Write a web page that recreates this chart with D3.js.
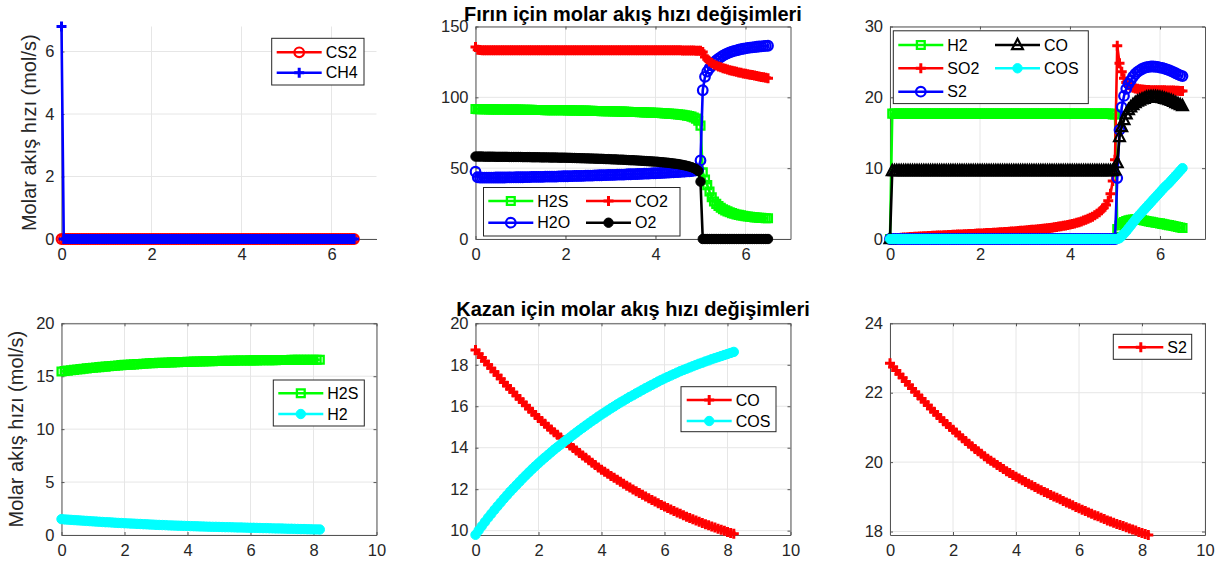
<!DOCTYPE html>
<html>
<head>
<meta charset="utf-8">
<script src="https://cdnjs.cloudflare.com/ajax/libs/d3/7.8.5/d3.min.js"></script>
<style>
  body { margin: 0; background: #fff; }
  svg { display: block; }
</style>
</head>
<body>
<svg id="fig" width="1222" height="572"></svg>
<script>
// ---------------- data ----------------
// Furnace (Fırın): axial position grid
const tTop = [
  0,0.05,0.1,0.15,0.2,0.25,0.3,0.35,0.4,0.45,
  0.5,0.55,0.6,0.65,0.7,0.75,0.8,0.85,0.9,0.95,
  1,1.05,1.1,1.15,1.2,1.25,1.3,1.35,1.4,1.45,
  1.5,1.55,1.6,1.65,1.7,1.75,1.8,1.85,1.9,1.95,
  2,2.05,2.1,2.15,2.2,2.25,2.3,2.35,2.4,2.45,
  2.5,2.55,2.6,2.65,2.7,2.75,2.8,2.85,2.9,2.95,
  3,3.05,3.1,3.15,3.2,3.25,3.3,3.35,3.4,3.45,
  3.5,3.55,3.6,3.65,3.7,3.75,3.8,3.85,3.9,3.95,
  4,4.05,4.1,4.15,4.2,4.25,4.3,4.35,4.4,4.45,
  4.5,4.55,4.6,4.65,4.7,4.75,4.8,4.85,4.9,4.95,
  5,5.05,5.1,5.15,5.2,5.25,5.3,5.35,5.4,5.45,
  5.5,5.55,5.6,5.65,5.7,5.75,5.8,5.85,5.9,5.95,
  6,6.05,6.1,6.15,6.2,6.25,6.3,6.35,6.4,6.45,
  6.5
];

const furnaceCS2 = [
  0,0,0,0,0,0,0,0,0,0, 0,0,0,0,0,0,0,0,0,0,
  0,0,0,0,0,0,0,0,0,0, 0,0,0,0,0,0,0,0,0,0,
  0,0,0,0,0,0,0,0,0,0, 0,0,0,0,0,0,0,0,0,0,
  0,0,0,0,0,0,0,0,0,0, 0,0,0,0,0,0,0,0,0,0,
  0,0,0,0,0,0,0,0,0,0, 0,0,0,0,0,0,0,0,0,0,
  0,0,0,0,0,0,0,0,0,0, 0,0,0,0,0,0,0,0,0,0,
  0,0,0,0,0,0,0,0,0,0,
  0
];
const furnaceCH4 = [
  6.8,0,0,0,0,0,0,0,0,0, 0,0,0,0,0,0,0,0,0,0,
  0,0,0,0,0,0,0,0,0,0, 0,0,0,0,0,0,0,0,0,0,
  0,0,0,0,0,0,0,0,0,0, 0,0,0,0,0,0,0,0,0,0,
  0,0,0,0,0,0,0,0,0,0, 0,0,0,0,0,0,0,0,0,0,
  0,0,0,0,0,0,0,0,0,0, 0,0,0,0,0,0,0,0,0,0,
  0,0,0,0,0,0,0,0,0,0, 0,0,0,0,0,0,0,0,0,0,
  0,0,0,0,0,0,0,0,0,0,
  0
];

const furnaceH2S = [
  91.8,91.7,91.7,91.6,91.6,91.6,91.5,91.5,91.5,91.5,
  91.4,91.4,91.4,91.4,91.4,91.3,91.3,91.3,91.3,91.3,
  91.3,91.2,91.2,91.2,91.2,91.2,91.1,91.1,91.1,91.1,
  91.1,91.0,91.0,91.0,91.0,91.0,90.9,90.9,90.9,90.9,
  90.9,90.8,90.8,90.8,90.7,90.7,90.7,90.6,90.6,90.6,
  90.5,90.5,90.5,90.4,90.4,90.4,90.3,90.3,90.2,90.2,
  90.2,90.1,90.1,90.0,90.0,89.9,89.9,89.8,89.8,89.7,
  89.7,89.6,89.6,89.5,89.5,89.4,89.3,89.3,89.2,89.1,
  89.1,89.0,88.9,88.8,88.7,88.6,88.5,88.4,88.3,88.1,
  88.0,87.8,87.6,87.4,87.1,86.8,86.4,85.8,85.0,83.5,
  80.0,47.0,42.0,38.0,33.5,29.5,26.5,24.8,23.3,22.1,
  21.0,20.2,19.5,18.9,18.3,17.8,17.3,17.0,16.7,16.4,
  16.1,15.9,15.7,15.5,15.3,15.2,15.0,14.9,14.8,14.7,
  14.6
];
const furnaceH2O = [
  47.5,43.6,43.4,43.3,43.3,43.3,43.3,43.3,43.3,43.4,
  43.4,43.4,43.4,43.4,43.5,43.5,43.5,43.5,43.6,43.6,
  43.6,43.6,43.7,43.7,43.7,43.8,43.8,43.8,43.9,43.9,
  43.9,44.0,44.0,44.0,44.1,44.1,44.1,44.2,44.2,44.3,
  44.3,44.3,44.4,44.4,44.5,44.5,44.5,44.6,44.6,44.7,
  44.7,44.8,44.8,44.9,44.9,45.0,45.0,45.1,45.1,45.2,
  45.2,45.3,45.3,45.4,45.4,45.5,45.5,45.6,45.7,45.7,
  45.8,45.8,45.9,46.0,46.0,46.1,46.2,46.2,46.3,46.4,
  46.4,46.5,46.6,46.7,46.7,46.8,46.9,47.0,47.1,47.2,
  47.3,47.4,47.5,47.6,47.7,47.8,48.0,48.2,48.5,49.0,
  55.5,105.0,114.5,118.2,120.5,122.5,124.5,126.0,127.3,128.4,
  129.4,130.3,131.0,131.7,132.3,132.8,133.2,133.6,134.0,134.3,
  134.6,134.9,135.1,135.3,135.5,135.7,135.9,136.0,136.2,136.3,
  136.4
];
const furnaceCO2 = [
  135.5,133.6,133.4,133.3,133.3,133.3,133.3,133.3,133.3,133.3,
  133.3,133.3,133.3,133.3,133.3,133.3,133.3,133.3,133.3,133.3,
  133.3,133.3,133.3,133.3,133.3,133.3,133.3,133.3,133.3,133.3,
  133.3,133.3,133.3,133.3,133.3,133.3,133.3,133.3,133.3,133.3,
  133.3,133.3,133.3,133.3,133.3,133.3,133.3,133.3,133.3,133.3,
  133.3,133.3,133.3,133.3,133.3,133.3,133.3,133.3,133.3,133.3,
  133.3,133.3,133.3,133.3,133.3,133.3,133.3,133.3,133.3,133.3,
  133.3,133.3,133.3,133.3,133.3,133.3,133.3,133.3,133.3,133.3,
  133.3,133.3,133.3,133.2,133.2,133.2,133.2,133.2,133.2,133.2,
  133.2,133.2,133.1,133.1,133.1,133.0,133.0,133.0,132.9,132.9,
  132.8,132.0,128.5,126.8,125.3,124.2,123.2,122.5,121.8,121.2,
  120.6,120.1,119.6,119.2,118.8,118.4,118.0,117.6,117.3,116.9,
  116.6,116.3,116.0,115.7,115.4,115.0,114.7,114.4,114.1,113.8,
  113.5
];
const furnaceO2 = [
  58.2,58.2,58.2,58.2,58.1,58.1,58.1,58.1,58.1,58.0,
  58.0,58.0,58.0,58.0,58.0,57.9,57.9,57.9,57.9,57.9,
  57.9,57.8,57.8,57.8,57.8,57.7,57.7,57.7,57.7,57.6,
  57.6,57.6,57.6,57.5,57.5,57.5,57.5,57.4,57.4,57.4,
  57.4,57.3,57.3,57.2,57.2,57.1,57.1,57.0,57.0,56.9,
  56.9,56.8,56.8,56.7,56.7,56.6,56.6,56.5,56.4,56.4,
  56.3,56.2,56.2,56.1,56.0,56.0,55.9,55.8,55.7,55.6,
  55.6,55.5,55.4,55.3,55.2,55.1,55.0,54.9,54.8,54.7,
  54.6,54.5,54.3,54.2,54.0,53.9,53.7,53.5,53.3,53.1,
  52.9,52.6,52.3,52.0,51.6,51.2,50.7,50.1,49.3,48.0,
  40.5,0,0,0,0,0,0,0,0,0,
  0,0,0,0,0,0,0,0,0,0,
  0,0,0,0,0,0,0,0,0,0,
  0
];

const furnaceH2 = [
  0,17.7,17.7,17.7,17.7,17.7,17.7,17.7,17.7,17.7,
  17.7,17.7,17.7,17.7,17.7,17.7,17.7,17.7,17.7,17.7,
  17.7,17.7,17.7,17.7,17.7,17.7,17.7,17.7,17.7,17.7,
  17.7,17.7,17.7,17.7,17.7,17.7,17.7,17.7,17.7,17.7,
  17.7,17.7,17.7,17.7,17.7,17.7,17.7,17.7,17.7,17.7,
  17.7,17.7,17.7,17.7,17.7,17.7,17.7,17.7,17.7,17.7,
  17.7,17.7,17.7,17.7,17.7,17.7,17.7,17.7,17.7,17.7,
  17.7,17.7,17.7,17.7,17.7,17.7,17.7,17.7,17.7,17.7,
  17.7,17.7,17.7,17.7,17.7,17.7,17.7,17.7,17.7,17.7,
  17.7,17.7,17.7,17.7,17.7,17.7,17.7,17.7,17.7,17.6,
  17.6,1.4,1.9,2.2,2.4,2.55,2.65,2.72,2.76,2.78,
  2.78,2.74,2.68,2.62,2.55,2.48,2.42,2.36,2.3,2.25,
  2.2,2.14,2.08,2.02,1.96,1.9,1.83,1.76,1.69,1.62,
  1.55
];
const furnaceSO2 = [
  0,0.05,0.1,0.12,0.15,0.17,0.2,0.22,0.25,0.27,
  0.3,0.32,0.33,0.35,0.37,0.38,0.4,0.42,0.43,0.45,
  0.47,0.48,0.5,0.51,0.53,0.54,0.56,0.57,0.59,0.6,
  0.62,0.63,0.65,0.66,0.68,0.69,0.71,0.72,0.74,0.76,
  0.78,0.79,0.81,0.83,0.85,0.86,0.88,0.9,0.92,0.94,
  0.96,0.98,1.0,1.02,1.05,1.07,1.1,1.12,1.15,1.17,
  1.2,1.23,1.26,1.29,1.32,1.35,1.38,1.41,1.45,1.48,
  1.52,1.56,1.6,1.65,1.7,1.75,1.8,1.86,1.92,1.98,
  2.05,2.12,2.2,2.29,2.38,2.48,2.6,2.72,2.85,3.0,
  3.15,3.34,3.55,3.78,4.05,4.4,4.8,5.4,6.4,8.2,
  11.2,27.3,24.8,23.6,22.7,22.1,21.7,21.5,21.35,21.25,
  21.2,21.15,21.1,21.08,21.05,21.03,21.0,21.0,21.0,21.0,
  21.0,21.0,21.0,20.98,20.97,20.96,20.95,20.94,20.92,20.91,
  20.9
];
const furnaceS2 = [
  0,0,0,0,0,0,0,0,0,0, 0,0,0,0,0,0,0,0,0,0,
  0,0,0,0,0,0,0,0,0,0, 0,0,0,0,0,0,0,0,0,0,
  0,0,0,0,0,0,0,0,0,0, 0,0,0,0,0,0,0,0,0,0,
  0,0,0,0,0,0,0,0,0,0, 0,0,0,0,0,0,0,0,0,0,
  0,0,0,0,0,0,0,0,0,0, 0,0,0,0,0,0,0,0,0,0,
  0,8.6,15.4,18.6,20.2,21.2,21.9,22.4,22.9,23.3,
  23.6,23.8,24.0,24.15,24.25,24.3,24.35,24.35,24.32,24.3,
  24.2,24.15,24.05,23.95,23.85,23.7,23.55,23.4,23.25,23.1,
  23.0
];
const furnaceCO = [
  0,9.6,9.6,9.6,9.6,9.6,9.6,9.6,9.6,9.6,
  9.6,9.6,9.6,9.6,9.6,9.6,9.6,9.6,9.6,9.6,
  9.6,9.6,9.6,9.6,9.6,9.6,9.6,9.6,9.6,9.6,
  9.6,9.6,9.6,9.6,9.6,9.6,9.6,9.6,9.6,9.6,
  9.6,9.6,9.6,9.6,9.6,9.6,9.6,9.6,9.6,9.6,
  9.6,9.6,9.6,9.6,9.6,9.6,9.6,9.6,9.6,9.6,
  9.6,9.6,9.6,9.6,9.6,9.6,9.6,9.6,9.6,9.6,
  9.6,9.6,9.6,9.6,9.6,9.6,9.6,9.6,9.6,9.6,
  9.6,9.6,9.6,9.6,9.6,9.6,9.6,9.6,9.6,9.6,
  9.6,9.6,9.6,9.6,9.6,9.6,9.6,9.6,9.6,9.6,
  9.7,10.7,14.4,15.8,16.8,17.6,18.2,18.6,18.9,19.2,
  19.4,19.55,19.7,19.8,19.95,20.0,20.05,20.05,20.05,20.0,
  19.95,19.9,19.8,19.7,19.6,19.5,19.35,19.2,19.05,18.9,
  18.75
];
const furnaceCOS = [
  0,0,0,0,0,0,0,0,0,0, 0,0,0,0,0,0,0,0,0,0,
  0,0,0,0,0,0,0,0,0,0, 0,0,0,0,0,0,0,0,0,0,
  0,0,0,0,0,0,0,0,0,0, 0,0,0,0,0,0,0,0,0,0,
  0,0,0,0,0,0,0,0,0,0, 0,0,0,0,0,0,0,0,0,0,
  0,0,0,0,0,0,0,0,0,0, 0,0,0,0,0,0,0,0,0,0,
  0,0,0.1,0.4,0.75,1.1,1.5,1.9,2.3,2.7,
  3.1,3.45,3.8,4.15,4.5,4.85,5.2,5.55,5.9,6.25,
  6.6,6.95,7.3,7.6,7.9,8.25,8.6,8.95,9.3,9.65,
  10.0
];

// Boiler (Kazan): axial position grid
const tBottom = [
  0,0.1,0.2,0.3,0.4,0.5,0.6,0.7,0.8,0.9,
  1,1.1,1.2,1.3,1.4,1.5,1.6,1.7,1.8,1.9,
  2,2.1,2.2,2.3,2.4,2.5,2.6,2.7,2.8,2.9,
  3,3.1,3.2,3.3,3.4,3.5,3.6,3.7,3.8,3.9,
  4,4.1,4.2,4.3,4.4,4.5,4.6,4.7,4.8,4.9,
  5,5.1,5.2,5.3,5.4,5.5,5.6,5.7,5.8,5.9,
  6,6.1,6.2,6.3,6.4,6.5,6.6,6.7,6.8,6.9,
  7,7.1,7.2,7.3,7.4,7.5,7.6,7.7,7.8,7.9,
  8,8.1,8.2
];
const boilerH2S = [
  15.45,15.49,15.53,15.57,15.6,15.64,15.67,15.71,15.74,15.77,
  15.8,15.83,15.86,15.89,15.91,15.94,15.96,15.99,16.02,16.05,
  16.07,16.09,16.1,16.12,16.14,16.16,16.18,16.2,16.22,16.24,
  16.25,16.26,16.27,16.28,16.29,16.31,16.32,16.33,16.34,16.35,
  16.36,16.37,16.38,16.39,16.39,16.4,16.41,16.42,16.43,16.44,
  16.44,16.45,16.45,16.46,16.46,16.47,16.48,16.48,16.49,16.49,
  16.5,16.5,16.5,16.51,16.51,16.52,16.52,16.52,16.52,16.53,
  16.53,16.53,16.53,16.54,16.54,16.54,16.54,16.55,16.55,16.55,
  16.55,16.56,16.56
];
const boilerH2 = [
  1.5,1.47,1.45,1.43,1.41,1.39,1.37,1.35,1.33,1.31,
  1.29,1.27,1.25,1.23,1.21,1.2,1.18,1.16,1.14,1.13,
  1.11,1.1,1.08,1.07,1.05,1.04,1.02,1.01,0.99,0.98,
  0.96,0.95,0.94,0.93,0.91,0.9,0.89,0.88,0.87,0.86,
  0.85,0.84,0.83,0.82,0.81,0.8,0.79,0.78,0.77,0.77,
  0.76,0.75,0.74,0.74,0.73,0.72,0.71,0.71,0.7,0.69,
  0.68,0.68,0.67,0.66,0.65,0.65,0.64,0.63,0.62,0.62,
  0.61,0.6,0.59,0.59,0.58,0.57,0.56,0.56,0.55,0.54,
  0.53,0.53,0.52
];
const boilerCO = [
  18.71,18.53,18.35,18.17,18.0,17.83,17.66,17.49,17.32,17.15,
  16.99,16.83,16.67,16.51,16.35,16.19,16.04,15.88,15.73,15.58,
  15.43,15.29,15.15,15.01,14.88,14.75,14.62,14.49,14.36,14.23,
  14.11,13.99,13.87,13.75,13.63,13.51,13.39,13.27,13.16,13.05,
  12.94,12.84,12.74,12.64,12.55,12.45,12.36,12.26,12.17,12.08,
  11.99,11.9,11.82,11.73,11.65,11.56,11.48,11.4,11.32,11.24,
  11.17,11.09,11.02,10.95,10.88,10.81,10.74,10.67,10.61,10.55,
  10.49,10.43,10.37,10.31,10.26,10.2,10.15,10.09,10.04,9.99,
  9.94,9.89,9.85
];
const boilerCOS = [
  9.8,10.01,10.22,10.42,10.62,10.81,11.0,11.18,11.36,11.54,
  11.71,11.88,12.04,12.2,12.36,12.52,12.67,12.82,12.97,13.11,
  13.25,13.39,13.52,13.65,13.78,13.91,14.03,14.15,14.27,14.39,
  14.5,14.62,14.73,14.85,14.96,15.07,15.18,15.29,15.39,15.5,
  15.6,15.7,15.8,15.9,15.99,16.09,16.18,16.27,16.36,16.45,
  16.53,16.62,16.7,16.79,16.87,16.95,17.03,17.11,17.19,17.27,
  17.34,17.41,17.48,17.55,17.62,17.69,17.75,17.81,17.87,17.93,
  17.99,18.05,18.1,18.16,18.21,18.27,18.32,18.37,18.42,18.47,
  18.52,18.57,18.62
];
const boilerS2 = [
  22.85,22.74,22.64,22.53,22.43,22.32,22.22,22.12,22.02,21.92,
  21.83,21.73,21.64,21.54,21.45,21.36,21.27,21.18,21.1,21.01,
  20.93,20.85,20.77,20.69,20.61,20.53,20.46,20.38,20.31,20.24,
  20.17,20.1,20.04,19.98,19.92,19.86,19.8,19.74,19.69,19.63,
  19.58,19.53,19.48,19.43,19.38,19.33,19.28,19.23,19.19,19.14,
  19.1,19.05,19.01,18.97,18.93,18.88,18.84,18.8,18.76,18.71,
  18.67,18.63,18.59,18.55,18.51,18.47,18.44,18.4,18.36,18.32,
  18.29,18.25,18.22,18.19,18.16,18.12,18.09,18.06,18.03,17.99,
  17.96,17.93,17.9
];

// axis ranges and tick labels
const xTicksTop = [0, 2, 4, 6];
const xTicksBottom = [0, 2, 4, 6, 8, 10];
const yTicksP1 = [0, 2, 4, 6];
const yTicksP2 = [0, 50, 100, 150];
const yTicksP3 = [0, 10, 20, 30];
const yTicksP4 = [0, 5, 10, 15, 20];
const yTicksP5 = [10, 12, 14, 16, 18, 20];
const yTicksP6 = [18, 20, 22, 24];

const titleFurnace = "Fırın için molar akış hızı değişimleri";
const titleBoiler = "Kazan için molar akış hızı değişimleri";
const yLabelText = "Molar akış hızı (mol/s)";

// ---------------- styling ----------------
const FONT = '"Liberation Sans", Arial, Helvetica, sans-serif';
const AXIS_COLOR = '#555555';
const GRID_COLOR = '#e6e6e6';
const TEXT_COLOR = '#262626';
const LINE_W = 2.6;

const MARKERS = {
  o:    { shape: 'circle',   r: 4.8, filled: false, sw: 2.2 },
  dot:  { shape: 'circle',   r: 4.7, filled: true,  sw: 1 },
  s:    { shape: 'square',   r: 3.9, filled: false, sw: 2.3 },
  plus: { shape: 'plus',     r: 5.0, filled: false, sw: 3 },
  tri:  { shape: 'triangle', r: 5.4, filled: false, sw: 2.2 }
};

function markerPath(m) {
  const r = m.r;
  switch (m.shape) {
    case 'circle':
      return `M${r},0A${r},${r} 0 1,1 ${-r},0A${r},${r} 0 1,1 ${r},0Z`;
    case 'square':
      return `M${-r},${-r}H${r}V${r}H${-r}Z`;
    case 'plus':
      return `M${-r},0H${r}M0,${-r}V${r}`;
    case 'triangle':
      return `M0,${-r * 1.15}L${r},${r * 0.75}L${-r},${r * 0.75}Z`;
  }
}

const svg = d3.select('#fig');

function drawMarkers(sel, pts, s) {
  const m = MARKERS[s.marker];
  sel.selectAll('path').data(pts).join('path')
    .attr('transform', d => `translate(${d[0]},${d[1]})`)
    .attr('d', markerPath(m))
    .attr('fill', m.filled ? s.color : 'none')
    .attr('stroke', s.color)
    .attr('stroke-width', m.sw)
    .attr('stroke-linejoin', 'miter');
}

function drawPanel(p) {
  const g = svg.append('g');
  const x = d3.scaleLinear().domain(p.xDomain).range([p.left, p.left + p.width]);
  const y = d3.scaleLinear().domain(p.yDomain).range([p.top + p.height, p.top]);
  const bottom = p.top + p.height, right = p.left + p.width;

  // grid
  g.append('g').selectAll('line').data(p.xTicks).join('line')
    .attr('x1', d => x(d)).attr('x2', d => x(d))
    .attr('y1', p.top).attr('y2', bottom)
    .attr('stroke', GRID_COLOR).attr('stroke-width', 1);
  g.append('g').selectAll('line').data(p.yTicks).join('line')
    .attr('x1', p.left).attr('x2', right)
    .attr('y1', d => y(d)).attr('y2', d => y(d))
    .attr('stroke', GRID_COLOR).attr('stroke-width', 1);

  // axes (ticks point inward)
  const styleAxis = a => {
    a.attr('color', AXIS_COLOR).attr('font-family', FONT).attr('font-size', 16.5);
    a.selectAll('text').attr('fill', TEXT_COLOR);
  };
  const fmt = d3.format('d');
  g.append('g').attr('transform', `translate(0,${bottom})`)
    .call(d3.axisBottom(x).tickValues(p.xTicks).tickFormat(fmt)
      .tickSizeInner(-3).tickSizeOuter(0).tickPadding(9))
    .call(styleAxis);
  g.append('g').attr('transform', `translate(${p.left},0)`)
    .call(d3.axisLeft(y).tickValues(p.yTicks).tickFormat(fmt)
      .tickSizeInner(-3).tickSizeOuter(0).tickPadding(7))
    .call(styleAxis);
  if (p.box) {
    g.append('g').attr('transform', `translate(0,${p.top})`)
      .call(d3.axisTop(x).tickValues(p.xTicks).tickFormat('')
        .tickSizeInner(-3).tickSizeOuter(0))
      .call(styleAxis);
    g.append('g').attr('transform', `translate(${right},0)`)
      .call(d3.axisRight(y).tickValues(p.yTicks).tickFormat('')
        .tickSizeInner(-3).tickSizeOuter(0))
      .call(styleAxis);
  }

  // series
  const line = d3.line().x(d => x(d[0])).y(d => y(d[1]));
  p.series.forEach(s => {
    const data = d3.zip(s.x, s.y);
    g.append('path').datum(data).attr('d', line)
      .attr('fill', 'none').attr('stroke', s.color)
      .attr('stroke-width', LINE_W).attr('stroke-linejoin', 'round');
    drawMarkers(g.append('g'), data.map(d => [x(d[0]), y(d[1])]), s);
  });

  // legend
  const L = p.legend;
  const lg = g.append('g');
  lg.append('rect')
    .attr('x', L.x0).attr('y', L.y0)
    .attr('width', L.x1 - L.x0).attr('height', L.y1 - L.y0)
    .attr('fill', '#ffffff').attr('stroke', '#262626').attr('stroke-width', 1);
  const nRows = L.rows.length;
  p.series.forEach((s, i) => {
    const cx = L.cols[Math.floor(i / nRows)], cy = L.rows[i % nRows];
    lg.append('line').attr('x1', cx).attr('x2', cx + 45)
      .attr('y1', cy).attr('y2', cy)
      .attr('stroke', s.color).attr('stroke-width', LINE_W);
    drawMarkers(lg.append('g'), [[cx + 22.5, cy]], s);
    lg.append('text').attr('x', cx + 49).attr('y', cy).attr('dy', '0.36em')
      .attr('font-family', FONT).attr('font-size', 16).attr('fill', '#000')
      .text(s.name);
  });

  if (p.yLabel) {
    svg.append('text')
      .attr('transform', `translate(${p.yLabel.x},${p.top + p.height / 2}) rotate(-90)`)
      .attr('text-anchor', 'middle')
      .attr('font-family', FONT).attr('font-size', 20).attr('fill', TEXT_COLOR)
      .text(yLabelText);
  }
}

// ---------------- panels ----------------
const colLeft = [61.5, 475.5, 890];
const panelW = 315;
const rowTop = [26.5, 323.3];
const rowH = [212.5, 211.7];

drawPanel({
  left: colLeft[0], top: rowTop[0], width: panelW, height: rowH[0],
  xDomain: [0, 7], yDomain: [0, d3.max(furnaceCH4)],
  xTicks: xTicksTop, yTicks: yTicksP1, box: false,
  yLabel: { x: 35.5 },
  series: [
    { name: 'CS2', x: tTop, y: furnaceCS2, color: '#ff0000', marker: 'o' },
    { name: 'CH4', x: tTop, y: furnaceCH4, color: '#0000ff', marker: 'plus' }
  ],
  legend: { x0: 271.7, y0: 38.3, x1: 364, y1: 85, cols: [276.7], rows: [52.3, 72.7] }
});

drawPanel({
  left: colLeft[1], top: rowTop[0], width: panelW, height: rowH[0],
  xDomain: [0, 7], yDomain: [0, 150],
  xTicks: xTicksTop, yTicks: yTicksP2, box: true,
  series: [
    { name: 'H2S', x: tTop, y: furnaceH2S, color: '#00ff00', marker: 's' },
    { name: 'H2O', x: tTop, y: furnaceH2O, color: '#0000ff', marker: 'o' },
    { name: 'CO2', x: tTop, y: furnaceCO2, color: '#ff0000', marker: 'plus' },
    { name: 'O2',  x: tTop, y: furnaceO2,  color: '#000000', marker: 'dot' }
  ],
  legend: { x0: 483.5, y0: 187.5, x1: 680, y1: 236, cols: [488.3, 586], rows: [201, 222.7] }
});

drawPanel({
  left: colLeft[2], top: rowTop[0], width: panelW, height: rowH[0],
  xDomain: [0, 7], yDomain: [0, 30],
  xTicks: xTicksTop, yTicks: yTicksP3, box: true,
  series: [
    { name: 'H2',  x: tTop, y: furnaceH2,  color: '#00ff00', marker: 's' },
    { name: 'SO2', x: tTop, y: furnaceSO2, color: '#ff0000', marker: 'plus' },
    { name: 'S2',  x: tTop, y: furnaceS2,  color: '#0000ff', marker: 'o' },
    { name: 'CO',  x: tTop, y: furnaceCO,  color: '#000000', marker: 'tri' },
    { name: 'COS', x: tTop, y: furnaceCOS, color: '#00ffff', marker: 'dot' }
  ],
  legend: { x0: 893.3, y0: 30.8, x1: 1088.3, y1: 103.6, cols: [898.3, 995], rows: [45, 68.3, 91.7] }
});

drawPanel({
  left: colLeft[0], top: rowTop[1], width: panelW, height: rowH[1],
  xDomain: [0, 10], yDomain: [0, 20],
  xTicks: xTicksBottom, yTicks: yTicksP4, box: true,
  yLabel: { x: 22.5 },
  series: [
    { name: 'H2S', x: tBottom, y: boilerH2S, color: '#00ff00', marker: 's' },
    { name: 'H2',  x: tBottom, y: boilerH2,  color: '#00ffff', marker: 'dot' }
  ],
  legend: { x0: 273.3, y0: 380, x1: 364.3, y1: 426, cols: [278.3], rows: [393.3, 414] }
});

drawPanel({
  left: colLeft[1], top: rowTop[1], width: panelW, height: rowH[1],
  xDomain: [0, 10], yDomain: [9.79, 20],
  xTicks: xTicksBottom, yTicks: yTicksP5, box: true,
  series: [
    { name: 'CO',  x: tBottom, y: boilerCO,  color: '#ff0000', marker: 'plus' },
    { name: 'COS', x: tBottom, y: boilerCOS, color: '#00ffff', marker: 'dot' }
  ],
  legend: { x0: 681, y0: 386.7, x1: 776, y1: 431.7, cols: [686.7], rows: [400, 421] }
});

drawPanel({
  left: colLeft[2], top: rowTop[1], width: panelW, height: rowH[1],
  xDomain: [0, 10], yDomain: [17.9, 24],
  xTicks: xTicksBottom, yTicks: yTicksP6, box: true,
  series: [
    { name: 'S2', x: tBottom, y: boilerS2, color: '#ff0000', marker: 'plus' }
  ],
  legend: { x0: 1113.3, y0: 334.3, x1: 1191.7, y1: 359.3, cols: [1118.3], rows: [347.3] }
});

// titles
svg.append('text').attr('x', 633).attr('y', 20.5).attr('text-anchor', 'middle')
  .attr('font-family', FONT).attr('font-size', 20).attr('font-weight', 'bold')
  .attr('fill', '#000').text(titleFurnace);
svg.append('text').attr('x', 633).attr('y', 315.5).attr('text-anchor', 'middle')
  .attr('font-family', FONT).attr('font-size', 20).attr('font-weight', 'bold')
  .attr('fill', '#000').text(titleBoiler);
</script>
</body>
</html>
